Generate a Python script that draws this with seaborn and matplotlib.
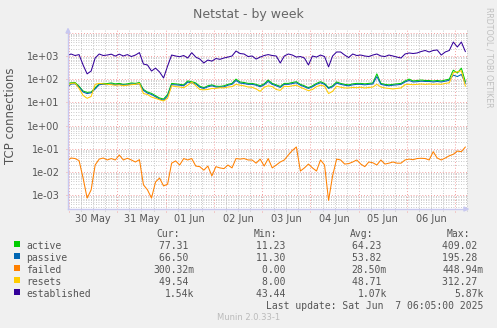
import numpy as np
import pandas as pd
import matplotlib
matplotlib.use("Agg")
import matplotlib.pyplot as plt
from matplotlib.patches import Rectangle
import seaborn as sns

# Two-hourly samples for the weekly netstat graph
start_time = "2025-05-29 23:00"
step = "2h"

active = [66, 70, 72, 50, 31, 27, 28, 43, 63, 66,
          65, 69, 63, 66, 60, 63, 69, 66, 72, 36,
          28, 24.5, 19.5, 15.5, 14, 22, 66, 63, 60, 57,
          84, 78, 69, 50, 43, 52, 57, 50, 49, 52,
          60, 66, 101, 76, 72, 66, 66, 60, 52, 63,
          92, 66, 57, 49, 66, 66, 72, 78, 60, 52,
          43, 52, 66, 78, 66, 43, 52, 76, 66, 60,
          57, 63, 66, 66, 63, 66, 69, 170, 66, 60,
          57, 60, 63, 66, 84, 101, 84, 88, 92, 88,
          88, 84, 88, 84, 92, 101, 245, 184, 300, 77.31]

passive = [43, 62, 64, 46, 28, 24, 26, 38, 58, 60,
           58, 62, 57, 60, 55, 57, 62, 60, 64, 33,
           25, 22, 17.5, 14, 12.5, 19, 58, 57, 55, 52,
           75, 70, 62, 45, 40, 47, 52, 46, 45, 47,
           55, 60, 88, 68, 65, 60, 60, 55, 47, 57,
           80, 60, 52, 44, 60, 60, 65, 70, 55, 47,
           40, 47, 60, 70, 60, 40, 47, 68, 60, 55,
           52, 57, 60, 60, 57, 60, 62, 130, 60, 55,
           52, 55, 57, 60, 76, 88, 76, 78, 82, 80,
           80, 76, 80, 76, 82, 90, 150, 130, 160, 66.5]

failed = [0.030, 0.040, 0.038, 0.031, 0.0055, 0.00075, 0.0017, 0.020, 0.036, 0.040,
          0.033, 0.038, 0.033, 0.054, 0.033, 0.039, 0.033, 0.027, 0.034, 0.0028,
          0.0017, 0.00075, 0.0037, 0.0055, 0.0025, 0.003, 0.024, 0.030, 0.020, 0.038,
          0.033, 0.038, 0.018, 0.017, 0.012, 0.018, 0.0068, 0.017, 0.015, 0.014,
          0.020, 0.015, 0.038, 0.036, 0.038, 0.033, 0.033, 0.024, 0.036, 0.018,
          0.038, 0.015, 0.020, 0.027, 0.033, 0.054, 0.085, 0.12, 0.011, 0.015,
          0.022, 0.015, 0.011, 0.033, 0.020, 0.0006, 0.0068, 0.036, 0.033, 0.022,
          0.023, 0.027, 0.033, 0.022, 0.017, 0.027, 0.025, 0.020, 0.033, 0.022,
          0.024, 0.027, 0.024, 0.024, 0.033, 0.036, 0.034, 0.038, 0.039, 0.038,
          0.033, 0.075, 0.040, 0.033, 0.040, 0.050, 0.058, 0.080, 0.075, 0.12]

resets = [50, 66, 68, 40, 20, 15, 18, 60, 66, 63,
          60, 58, 55, 57, 52, 55, 58, 60, 66, 24,
          22, 17, 15, 13, 11.5, 15, 52, 48, 46, 43,
          55, 75, 52, 36, 35, 36, 40, 40, 43, 42,
          46, 48, 60, 55, 52, 46, 45, 38, 30, 45,
          52, 48, 36, 33, 50, 48, 52, 55, 45, 38,
          32, 36, 48, 55, 50, 24, 30, 50, 45, 42,
          42, 44, 43, 45, 42, 44, 46, 60, 46, 42,
          40, 38, 40, 42, 58, 60, 58, 60, 62, 60,
          62, 60, 62, 60, 66, 70, 190, 210, 230, 49.54]

established = [1030, 1220, 1050, 1150, 410, 170, 225, 820, 1220, 1050,
               1100, 1200, 990, 1200, 1000, 1150, 950, 1100, 1400, 450,
               410, 225, 300, 205, 113, 370, 1100, 1000, 930, 1050,
               820, 1390, 900, 740, 500, 670, 600, 780, 720, 820,
               900, 1000, 1640, 1280, 1220, 950, 1000, 740, 900, 1050,
               1150, 1050, 1000, 500, 1000, 1220, 1100, 900, 950, 820,
               410, 1000, 900, 1100, 950, 340, 1000, 1490, 1490, 1100,
               860, 1220, 1050, 1100, 1000, 950, 1100, 1220, 1000, 950,
               1100, 1000, 900, 820, 1220, 1350, 1280, 1350, 1560, 1730,
               1490, 1730, 1820, 1100, 1490, 1730, 4000, 2450, 4000, 1540]

series_names = ["active", "passive", "failed", "resets", "established"]
series_colors = ["#00CC00", "#0066B3", "#FF8000", "#FFCC00", "#330099"]
cur_vals = ["77.31 ", "66.50 ", "300.32m", "49.54 ", "1.54k"]
min_vals = ["11.23 ", "11.30 ", "0.00 ", "8.00 ", "43.44 "]
avg_vals = ["64.23 ", "53.82 ", "28.50m", "48.71 ", "1.07k"]
max_vals = ["409.02 ", "195.28 ", "448.94m", "312.27 ", "5.87k"]
day_labels = ["30 May", "31 May", "01 Jun", "02 Jun", "03 Jun", "04 Jun", "05 Jun", "06 Jun"]
first_day = "2025-05-30"
last_update = "Last update: Sat Jun  7 06:05:00 2025"

values = [active, passive, failed, resets, established]
times = pd.date_range(start_time, periods=len(active), freq=step)
frames = [pd.DataFrame({"time": times, "value": v, "series": name})
          for name, v in zip(series_names, values)]
df = pd.concat(frames, ignore_index=True)

sns.set_style("white")
plt.rcParams["font.family"] = ["DejaVu Sans"]

W, H = 497, 328
fig = plt.figure(figsize=(W / 100, H / 100), dpi=100, facecolor="#F0F0F0")
px_l, px_r, px_t, px_b = 68, 467, 30, 209
ax = fig.add_axes([px_l / W, 1 - px_b / H, (px_r - px_l) / W, (px_b - px_t) / H])
ax.set_facecolor("white")

sns.lineplot(data=df, x="time", y="value", hue="series", hue_order=series_names,
             palette=dict(zip(series_names, series_colors)), estimator=None,
             linewidth=0.75, legend=False, ax=ax, zorder=3)

ax.set_yscale("log")
ax.set_ylim(10 ** -3.595, 10 ** 4.121)
t0 = pd.Timestamp(first_day)
ax.set_xlim(t0 - pd.Timedelta(minutes=30), t0 + pd.Timedelta(hours=197.8))

# grid: red at decades / midnights, grey in between
grey = "#B8B8B8"
red = "#F4A0A0"
dots = (0, (1, 2))
for k in range(-4, 5):
    for m in range(2, 10):
        ax.axhline(m * 10.0 ** k, color=grey, lw=0.6, ls=dots, zorder=1)
for k in range(-3, 5):
    ax.axhline(10.0 ** k, xmin=-0.006, color=red, lw=0.7, ls=dots, zorder=2, clip_on=False)
for hh in range(0, 200, 6):
    t = t0 + pd.Timedelta(hours=hh)
    if hh % 24 == 0:
        ax.axvline(t, ymin=-0.015, color=red, lw=0.7, ls=dots, zorder=2, clip_on=False)
    else:
        ax.axvline(t, ymin=-0.012, color=grey, lw=0.6, ls=dots, zorder=1, clip_on=False)

txt = "#555555"
ax.set_xticks([t0 + pd.Timedelta(hours=12 + 24 * i) for i in range(len(day_labels))])
ax.set_xticklabels(day_labels)
ax.set_yticks([10.0 ** k for k in range(-3, 4)])
ax.set_yticklabels(["1e-03", "1e-02", "1e-01", "1e+00", "1e+01", "1e+02", "1e+03"])
ax.minorticks_off()
ax.tick_params(axis="both", length=0, labelsize=7, labelcolor=txt)
ax.tick_params(axis="x", pad=3.5)
ax.tick_params(axis="y", pad=6)
ax.set_xlabel("")
ax.set_ylabel("")

for s in ["top", "right"]:
    ax.spines[s].set_visible(False)
axis_col = "#C8C8F0"
for s in ["left", "bottom"]:
    ax.spines[s].set_color(axis_col)
    ax.spines[s].set_linewidth(1.0)
    ax.spines[s].set_zorder(4)
ax.annotate("", xy=(0, 1.03), xytext=(0, 0.98), xycoords="axes fraction",
            arrowprops=dict(arrowstyle="-|>", color=axis_col, lw=1, mutation_scale=7))
ax.annotate("", xy=(1.013, 0), xytext=(0.99, 0), xycoords="axes fraction",
            arrowprops=dict(arrowstyle="-|>", color=axis_col, lw=1, mutation_scale=7))


def fx(x):
    return x / W


def fy(y):
    return 1 - y / H


fig.text(fx(248), fy(18.3), "Netstat - by week", ha="center", va="baseline",
         fontsize=9, color="#666666")
fig.text(fx(10.5), fy(116), "TCP connections", ha="center", va="center",
         rotation=90, fontsize=8.5, color=txt)
fig.text(fx(489), fy(57), "RRDTOOL / TOBI OETIKER", ha="center", va="center",
         rotation=270, fontsize=5.7, color="#C0C0C0")

mono = "DejaVu Sans Mono"
fs = 7
base0 = 236.7
for hx, lab in zip([180, 277, 373, 470], ["Cur:", "Min:", "Avg:", "Max:"]):
    fig.text(fx(hx), fy(base0), lab, ha="right", va="baseline", family=mono,
             fontsize=fs, color=txt)
for i, name in enumerate(series_names):
    yb = base0 + 12 * (i + 1)
    fig.patches.append(Rectangle((fx(14), fy(yb - 1.5)), 6 / W, 6 / H,
                                 transform=fig.transFigure, facecolor=series_colors[i],
                                 edgecolor="none", figure=fig))
    fig.text(fx(26.5), fy(yb), name, ha="left", va="baseline", family=mono,
             fontsize=fs, color=txt)
    for cx, col in zip([194, 291, 387, 483.5], [cur_vals, min_vals, avg_vals, max_vals]):
        fig.text(fx(cx), fy(yb), col[i], ha="right", va="baseline", family=mono,
                 fontsize=fs, color=txt)
fig.text(fx(483.5), fy(base0 + 72), last_update, ha="right", va="baseline",
         family=mono, fontsize=fs, color=txt)
fig.text(fx(248.5), fy(320), "Munin 2.0.33-1", ha="center", va="baseline",
         fontsize=6, color="#BBBBBB")

fig.savefig("out.png", dpi=100, facecolor="#F0F0F0")
